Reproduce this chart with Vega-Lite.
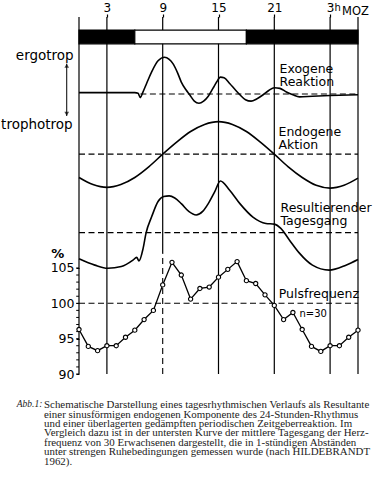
{
  "$schema": "https://vega.github.io/schema/vega-lite/v6.json",
  "autosize": {"type": "none"},
  "padding": {"left": 79, "top": 17, "right": 18, "bottom": 106},
  "width": 279,
  "height": 357,
  "background": "white",
  "config": {
    "view": {"stroke": null},
    "font": "DejaVu Sans",
    "axis": {"labelOverlap": false, "labelFlush": false, "tickColor": "black", "labelColor": "black", "domain": false, "grid": false}
  },
  "title": {
    "text": [
      "Schematische Darstellung eines tagesrhythmischen Verlaufs als Resultante",
      "einer sinusförmigen endogenen Komponente des 24-Stunden-Rhythmus",
      "und einer überlagerten gedämpften periodischen Zeitgeberreaktion. Im",
      "Vergleich dazu ist in der untersten Kurve der mittlere Tagesgang der Herz-",
      "frequenz von 30 Erwachsenen dargestellt, die in 1-stündigen Abständen",
      "unter strengen Ruhebedingungen gemessen wurde (nach HILDEBRANDT",
      "1962)."
    ],
    "orient": "bottom",
    "anchor": "start",
    "frame": "group",
    "offset": -9,
    "dx": -35,
    "font": "Liberation Serif",
    "fontSize": 10.9,
    "fontWeight": "normal",
    "color": "#222222",
    "lineHeight": 9.4
  },
  "datasets": {
    "vgrid": [{"hour": 0}, {"hour": 3}, {"hour": 15}, {"hour": 21}, {"hour": 27}, {"hour": 30}],
    "grid9solid": [{"hour": 9, "from": 107, "to": 140.5}],
    "grid9dash": [{"hour": 9, "from": 90, "to": 107}],
    "yticks": [
      {"value": 90}, {"value": 91}, {"value": 92}, {"value": 93}, {"value": 94}, {"value": 95},
      {"value": 96}, {"value": 97}, {"value": 98}, {"value": 99}, {"value": 100}, {"value": 101},
      {"value": 102}, {"value": 103}, {"value": 104}, {"value": 105}
    ],
    "bar": [
      {"start": 0, "end": 6, "phase": "dunkel"},
      {"start": 6, "end": 18, "phase": "hell"},
      {"start": 18, "end": 30, "phase": "dunkel"}
    ],
    "baselines": [
      {"curve": "Exogene Reaktion", "from": 6.6, "to": 30, "level": 129.6},
      {"curve": "Endogene Aktion", "from": 0, "to": 30, "level": 121.1},
      {"curve": "Resultierender Tagesgang", "from": 0, "to": 30, "level": 110},
      {"curve": "Pulsfrequenz", "from": 0, "to": 30, "level": 100}
    ],
    "curves": [
      {"series": "exo", "hour": 0, "value": 129.8},
      {"series": "exo", "hour": 6.0, "value": 129.8},
      {"series": "exo", "hour": 6.35, "value": 129.7},
      {"series": "exo", "hour": 6.6, "value": 129.1},
      {"series": "exo", "hour": 6.85, "value": 129.8},
      {"series": "exo", "hour": 7.3, "value": 131.2},
      {"series": "exo", "hour": 7.8, "value": 132.7},
      {"series": "exo", "hour": 8.5, "value": 134.3},
      {"series": "exo", "hour": 9.2, "value": 134.8},
      {"series": "exo", "hour": 9.7, "value": 134.5},
      {"series": "exo", "hour": 10.1, "value": 133.9},
      {"series": "exo", "hour": 10.6, "value": 132.6},
      {"series": "exo", "hour": 11.0, "value": 131.3},
      {"series": "exo", "hour": 11.5, "value": 130.2},
      {"series": "exo", "hour": 11.9, "value": 129.5},
      {"series": "exo", "hour": 12.4, "value": 128.6},
      {"series": "exo", "hour": 12.9, "value": 128.3},
      {"series": "exo", "hour": 13.4, "value": 128.6},
      {"series": "exo", "hour": 13.9, "value": 129.3},
      {"series": "exo", "hour": 14.4, "value": 130.4},
      {"series": "exo", "hour": 14.8, "value": 131.3},
      {"series": "exo", "hour": 15.2, "value": 132.0},
      {"series": "exo", "hour": 15.6, "value": 131.9},
      {"series": "exo", "hour": 16.2, "value": 131.1},
      {"series": "exo", "hour": 16.8, "value": 130.2},
      {"series": "exo", "hour": 17.3, "value": 129.5},
      {"series": "exo", "hour": 17.9, "value": 128.8},
      {"series": "exo", "hour": 18.5, "value": 128.6},
      {"series": "exo", "hour": 19.1, "value": 128.9},
      {"series": "exo", "hour": 19.8, "value": 129.5},
      {"series": "exo", "hour": 20.4, "value": 130.1},
      {"series": "exo", "hour": 21.0, "value": 130.5},
      {"series": "exo", "hour": 21.6, "value": 130.4},
      {"series": "exo", "hour": 22.3, "value": 129.9},
      {"series": "exo", "hour": 23.0, "value": 129.5},
      {"series": "exo", "hour": 23.7, "value": 129.2},
      {"series": "exo", "hour": 25.1, "value": 129.3},
      {"series": "exo", "hour": 27.0, "value": 129.4},
      {"series": "exo", "hour": 30.0, "value": 129.5},
      {"series": "endo", "hour": 0, "value": 117.8},
      {"series": "endo", "hour": 1.5, "value": 116.8},
      {"series": "endo", "hour": 3, "value": 116.4},
      {"series": "endo", "hour": 4.5, "value": 116.8},
      {"series": "endo", "hour": 6, "value": 117.8},
      {"series": "endo", "hour": 7.5, "value": 119.3},
      {"series": "endo", "hour": 9, "value": 121.1},
      {"series": "endo", "hour": 10.5, "value": 122.8},
      {"series": "endo", "hour": 12, "value": 124.3},
      {"series": "endo", "hour": 13.5, "value": 125.3},
      {"series": "endo", "hour": 15, "value": 125.7},
      {"series": "endo", "hour": 16.5, "value": 125.3},
      {"series": "endo", "hour": 18, "value": 124.3},
      {"series": "endo", "hour": 19.5, "value": 122.8},
      {"series": "endo", "hour": 21, "value": 121.1},
      {"series": "endo", "hour": 22.5, "value": 119.3},
      {"series": "endo", "hour": 24, "value": 117.8},
      {"series": "endo", "hour": 25.5, "value": 116.7},
      {"series": "endo", "hour": 27, "value": 116.3},
      {"series": "endo", "hour": 28.5, "value": 116.7},
      {"series": "endo", "hour": 30, "value": 117.7},
      {"series": "result", "hour": 0, "value": 106.3},
      {"series": "result", "hour": 1.7, "value": 105.4},
      {"series": "result", "hour": 3.1, "value": 104.95},
      {"series": "result", "hour": 4.55, "value": 105.2},
      {"series": "result", "hour": 5.8, "value": 106.1},
      {"series": "result", "hour": 6.2, "value": 106.5},
      {"series": "result", "hour": 6.45, "value": 106.0},
      {"series": "result", "hour": 6.9, "value": 107.8},
      {"series": "result", "hour": 7.2, "value": 109.9},
      {"series": "result", "hour": 7.8, "value": 112.2},
      {"series": "result", "hour": 8.5, "value": 114.4},
      {"series": "result", "hour": 9.1, "value": 115.1},
      {"series": "result", "hour": 9.7, "value": 115.2},
      {"series": "result", "hour": 10.3, "value": 114.9},
      {"series": "result", "hour": 11.0, "value": 114.1},
      {"series": "result", "hour": 11.8, "value": 113.0},
      {"series": "result", "hour": 12.6, "value": 112.5},
      {"series": "result", "hour": 13.3, "value": 113.0},
      {"series": "result", "hour": 13.9, "value": 114.1},
      {"series": "result", "hour": 14.6, "value": 115.8},
      {"series": "result", "hour": 15.2, "value": 117.3},
      {"series": "result", "hour": 16.2, "value": 116.0},
      {"series": "result", "hour": 17.3, "value": 114.1},
      {"series": "result", "hour": 18.7, "value": 112.2},
      {"series": "result", "hour": 20.1, "value": 111.3},
      {"series": "result", "hour": 21.0, "value": 111.2},
      {"series": "result", "hour": 21.7, "value": 110.6},
      {"series": "result", "hour": 22.6, "value": 109.0},
      {"series": "result", "hour": 23.7, "value": 107.1},
      {"series": "result", "hour": 25.1, "value": 105.4},
      {"series": "result", "hour": 26.9, "value": 104.7},
      {"series": "result", "hour": 28.7, "value": 105.4},
      {"series": "result", "hour": 30, "value": 106.2}
    ],
    "pulse": [
      {"hour": 0, "value": 96.3}, {"hour": 1, "value": 93.9}, {"hour": 2, "value": 93.3},
      {"hour": 3, "value": 94.0}, {"hour": 4, "value": 94.0}, {"hour": 5, "value": 95.2},
      {"hour": 6, "value": 96.2}, {"hour": 7, "value": 97.7}, {"hour": 8, "value": 99.0},
      {"hour": 9, "value": 102.6}, {"hour": 10, "value": 105.8}, {"hour": 11, "value": 104.0},
      {"hour": 12, "value": 100.6}, {"hour": 13, "value": 102.1}, {"hour": 14, "value": 102.3},
      {"hour": 15, "value": 103.7}, {"hour": 16, "value": 104.8}, {"hour": 17, "value": 105.9},
      {"hour": 18, "value": 103.2}, {"hour": 19, "value": 102.8}, {"hour": 20, "value": 101.2},
      {"hour": 21, "value": 99.7}, {"hour": 22, "value": 97.7}, {"hour": 23, "value": 98.7},
      {"hour": 24, "value": 96.3}, {"hour": 25, "value": 93.9}, {"hour": 26, "value": 93.2},
      {"hour": 27, "value": 94.0}, {"hour": 28, "value": 94.0}, {"hour": 29, "value": 95.2},
      {"hour": 30, "value": 96.2}
    ],
    "curveLabels": [
      {"hour": 21.56, "value": 132.6, "text": "Exogene\nReaktion"},
      {"hour": 21.45, "value": 123.7, "text": "Endogene\nAktion"},
      {"hour": 21.67, "value": 112.9, "text": "Resultierender\nTagesgang"},
      {"hour": 21.48, "value": 100.7, "text": "Pulsfrequenz"}
    ],
    "sideLabels": [
      {"hour": -0.57, "value": 134.4, "text": "ergotrop"},
      {"hour": -0.68, "value": 124.6, "text": "trophotrop"}
    ],
    "nLabel": [{"hour": 23.7, "value": 98.0, "text": "n=30"}],
    "unitLabel": [{"hour": -2.29, "value": 106.4, "text": "%"}],
    "hLabel": [{"hour": 27.47, "value": 141.3, "text": "h"}],
    "mozLabel": [{"hour": 28.29, "value": 140.8, "text": "MOZ"}],
    "arrow": [{"hour": -1.32, "from": 126.5, "to": 133.9}],
    "arrowUp": [{"hour": -1.32, "value": 133.6}],
    "arrowDown": [{"hour": -1.32, "value": 126.8}],
    "figLabel": [{"hour": -6.69, "value": 85.37, "text": "Abb.1:"}]
  },
  "layer": [
    {
      "data": {"name": "vgrid"},
      "mark": {"type": "rule", "color": "black", "strokeWidth": 1.2},
      "encoding": {
        "x": {
          "field": "hour", "type": "quantitative",
          "scale": {"domain": [0, 30], "nice": false, "zero": false},
          "axis": {
            "orient": "top", "values": [3, 9, 15, 21, 27],
            "labelExpr": "datum.value == 27 ? '3' : datum.label",
            "title": null, "domain": false, "grid": false, "ticks": true,
            "tickSize": 3, "tickColor": "black", "tickWidth": 1.2,
            "labelFont": "DejaVu Sans", "labelFontSize": 12, "labelColor": "black",
            "labelPadding": 0, "labelFlush": false, "labelOverlap": false
          }
        }
      }
    },
    {
      "data": {"name": "grid9solid"},
      "mark": {"type": "rule", "color": "black", "strokeWidth": 1.2},
      "encoding": {
        "x": {"field": "hour", "type": "quantitative", "scale": {"domain": [0, 30], "nice": false, "zero": false}},
        "y": {
          "field": "from", "type": "quantitative",
          "scale": {"domain": [90, 140.5], "nice": false, "zero": false},
          "axis": {
            "orient": "left", "values": [90, 95, 100, 105],
            "title": null, "domain": false, "grid": false, "ticks": true,
            "tickSize": 3, "tickColor": "black",
            "labelFont": "DejaVu Sans", "labelFontSize": 12.5, "labelColor": "black",
            "labelPadding": 2, "labelOverlap": false, "labelFlush": false
          }
        },
        "y2": {"field": "to"}
      }
    },
    {
      "data": {"name": "yticks"},
      "mark": {"type": "rule", "color": "black", "strokeWidth": 1},
      "encoding": {
        "x": {"datum": -0.3, "type": "quantitative", "scale": {"domain": [0, 30], "nice": false, "zero": false}},
        "x2": {"datum": 0},
        "y": {"field": "value", "type": "quantitative", "scale": {"domain": [90, 140.5], "nice": false, "zero": false}}
      }
    },
    {
      "data": {"name": "grid9dash"},
      "mark": {"type": "rule", "color": "black", "strokeWidth": 1.1, "strokeDash": [6, 4]},
      "encoding": {
        "x": {"field": "hour", "type": "quantitative", "scale": {"domain": [0, 30], "nice": false, "zero": false}},
        "y": {"field": "from", "type": "quantitative", "scale": {"domain": [90, 140.5], "nice": false, "zero": false}},
        "y2": {"field": "to"}
      }
    },
    {
      "mark": {"type": "rule", "color": "black", "strokeWidth": 1.2},
      "encoding": {
        "y": {"datum": 140.5, "type": "quantitative", "scale": {"domain": [90, 140.5], "nice": false, "zero": false}}
      }
    },
    {
      "data": {"name": "bar"},
      "mark": {"type": "rect", "stroke": "black", "strokeWidth": 1.2},
      "encoding": {
        "x": {"field": "start", "type": "quantitative", "scale": {"domain": [0, 30], "nice": false, "zero": false}},
        "x2": {"field": "end"},
        "y": {"datum": 136.7, "type": "quantitative", "scale": {"domain": [90, 140.5], "nice": false, "zero": false}},
        "y2": {"datum": 138.65},
        "fill": {"field": "phase", "type": "nominal", "scale": {"domain": ["dunkel", "hell"], "range": ["black", "white"]}, "legend": null}
      }
    },
    {
      "data": {"name": "baselines"},
      "mark": {"type": "rule", "color": "black", "strokeWidth": 1.1, "strokeDash": [6, 3.5]},
      "encoding": {
        "x": {"field": "from", "type": "quantitative", "scale": {"domain": [0, 30], "nice": false, "zero": false}},
        "x2": {"field": "to"},
        "y": {"field": "level", "type": "quantitative", "scale": {"domain": [90, 140.5], "nice": false, "zero": false}}
      }
    },
    {
      "data": {"name": "curves"},
      "mark": {"type": "line", "color": "black", "strokeWidth": 1.6, "interpolate": "monotone"},
      "encoding": {
        "x": {"field": "hour", "type": "quantitative", "scale": {"domain": [0, 30], "nice": false, "zero": false}},
        "y": {"field": "value", "type": "quantitative", "scale": {"domain": [90, 140.5], "nice": false, "zero": false}},
        "detail": {"field": "series", "type": "nominal"}
      }
    },
    {
      "data": {"name": "pulse"},
      "mark": {"type": "line", "color": "black", "strokeWidth": 1.3, "point": {"filled": false, "fill": "white", "stroke": "black", "size": 18, "strokeWidth": 1.1}},
      "encoding": {
        "x": {"field": "hour", "type": "quantitative", "scale": {"domain": [0, 30], "nice": false, "zero": false}},
        "y": {"field": "value", "type": "quantitative", "scale": {"domain": [90, 140.5], "nice": false, "zero": false}}
      }
    },
    {
      "data": {"name": "curveLabels"},
      "mark": {"type": "text", "align": "left", "baseline": "alphabetic", "font": "DejaVu Sans", "fontSize": 12.5, "color": "black", "lineBreak": "\n", "lineHeight": 13.3},
      "encoding": {
        "x": {"field": "hour", "type": "quantitative", "scale": {"domain": [0, 30], "nice": false, "zero": false}},
        "y": {"field": "value", "type": "quantitative", "scale": {"domain": [90, 140.5], "nice": false, "zero": false}},
        "text": {"field": "text"}
      }
    },
    {
      "data": {"name": "sideLabels"},
      "mark": {"type": "text", "align": "right", "baseline": "alphabetic", "font": "DejaVu Sans", "fontSize": 13.5, "color": "black"},
      "encoding": {
        "x": {"field": "hour", "type": "quantitative", "scale": {"domain": [0, 30], "nice": false, "zero": false}},
        "y": {"field": "value", "type": "quantitative", "scale": {"domain": [90, 140.5], "nice": false, "zero": false}},
        "text": {"field": "text"}
      }
    },
    {
      "data": {"name": "nLabel"},
      "mark": {"type": "text", "align": "left", "baseline": "alphabetic", "font": "DejaVu Sans", "fontSize": 10, "color": "black"},
      "encoding": {
        "x": {"field": "hour", "type": "quantitative", "scale": {"domain": [0, 30], "nice": false, "zero": false}},
        "y": {"field": "value", "type": "quantitative", "scale": {"domain": [90, 140.5], "nice": false, "zero": false}},
        "text": {"field": "text"}
      }
    },
    {
      "data": {"name": "unitLabel"},
      "mark": {"type": "text", "align": "center", "baseline": "alphabetic", "font": "DejaVu Sans", "fontSize": 13, "fontWeight": "bold", "color": "black"},
      "encoding": {
        "x": {"field": "hour", "type": "quantitative", "scale": {"domain": [0, 30], "nice": false, "zero": false}},
        "y": {"field": "value", "type": "quantitative", "scale": {"domain": [90, 140.5], "nice": false, "zero": false}},
        "text": {"field": "text"}
      }
    },
    {
      "data": {"name": "hLabel"},
      "mark": {"type": "text", "align": "left", "baseline": "alphabetic", "font": "DejaVu Sans", "fontSize": 10, "color": "black"},
      "encoding": {
        "x": {"field": "hour", "type": "quantitative", "scale": {"domain": [0, 30], "nice": false, "zero": false}},
        "y": {"field": "value", "type": "quantitative", "scale": {"domain": [90, 140.5], "nice": false, "zero": false}},
        "text": {"field": "text"}
      }
    },
    {
      "data": {"name": "mozLabel"},
      "mark": {"type": "text", "align": "left", "baseline": "alphabetic", "font": "DejaVu Sans", "fontSize": 11.5, "color": "black"},
      "encoding": {
        "x": {"field": "hour", "type": "quantitative", "scale": {"domain": [0, 30], "nice": false, "zero": false}},
        "y": {"field": "value", "type": "quantitative", "scale": {"domain": [90, 140.5], "nice": false, "zero": false}},
        "text": {"field": "text"}
      }
    },
    {
      "data": {"name": "arrow"},
      "mark": {"type": "rule", "color": "black", "strokeWidth": 1},
      "encoding": {
        "x": {"field": "hour", "type": "quantitative", "scale": {"domain": [0, 30], "nice": false, "zero": false}},
        "y": {"field": "from", "type": "quantitative", "scale": {"domain": [90, 140.5], "nice": false, "zero": false}},
        "y2": {"field": "to"}
      }
    },
    {
      "data": {"name": "arrowUp"},
      "mark": {"type": "point", "shape": "triangle-up", "filled": true, "color": "black", "size": 22},
      "encoding": {
        "x": {"field": "hour", "type": "quantitative", "scale": {"domain": [0, 30], "nice": false, "zero": false}},
        "y": {"field": "value", "type": "quantitative", "scale": {"domain": [90, 140.5], "nice": false, "zero": false}}
      }
    },
    {
      "data": {"name": "arrowDown"},
      "mark": {"type": "point", "shape": "triangle-down", "filled": true, "color": "black", "size": 22},
      "encoding": {
        "x": {"field": "hour", "type": "quantitative", "scale": {"domain": [0, 30], "nice": false, "zero": false}},
        "y": {"field": "value", "type": "quantitative", "scale": {"domain": [90, 140.5], "nice": false, "zero": false}}
      }
    },
    {
      "data": {"name": "figLabel"},
      "mark": {"type": "text", "align": "left", "baseline": "alphabetic", "font": "Liberation Serif", "fontSize": 9.5, "fontStyle": "italic", "color": "#222222"},
      "encoding": {
        "x": {"field": "hour", "type": "quantitative", "scale": {"domain": [0, 30], "nice": false, "zero": false}},
        "y": {"field": "value", "type": "quantitative", "scale": {"domain": [90, 140.5], "nice": false, "zero": false}},
        "text": {"field": "text"}
      }
    }
  ]
}
